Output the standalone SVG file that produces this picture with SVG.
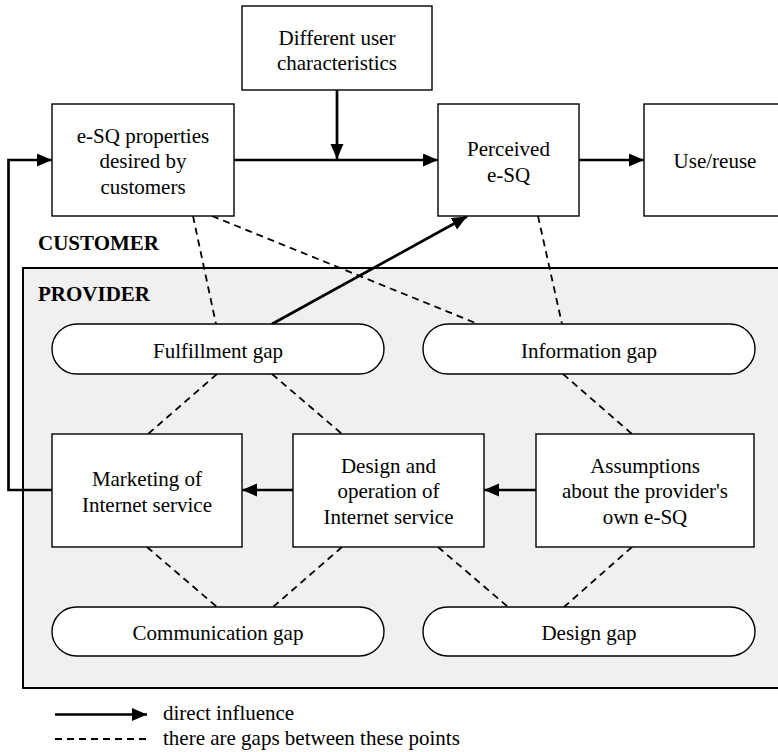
<svg xmlns="http://www.w3.org/2000/svg" width="778" height="752" viewBox="0 0 778 752">
<defs>
<marker id="ah" markerUnits="userSpaceOnUse" markerWidth="16" markerHeight="14" refX="15" refY="6.5" orient="auto">
<path d="M0,0 L15,6.5 L0,13 Z" fill="#000"/>
</marker>
<style>
.box{fill:#fff;stroke:#000;stroke-width:1.4}
.pill{fill:#fff;stroke:#000;stroke-width:1.4}
text{font-family:'Liberation Serif','Times New Roman',serif;font-size:21px;fill:#000}
.t{text-anchor:middle}
.lbl{font-weight:bold}
.arr{fill:none;stroke:#000;stroke-width:2.7;marker-end:url(#ah)}
.dash{fill:none;stroke:#000;stroke-width:1.8;stroke-dasharray:7,5}
</style>
</defs>
<rect width="778" height="752" fill="#fff"/>
<g id="provider-area">
<rect x="23" y="268" width="770" height="420" fill="#f0f0f0" stroke="#000" stroke-width="2"/>
<text class="lbl" x="38" y="301">PROVIDER</text>
</g>
<g id="customer-label"><text class="lbl" x="38" y="250">CUSTOMER</text></g>

<g id="connectors">
<line class="dash" x1="193" y1="216" x2="216" y2="324"/>
<line class="dash" x1="212" y1="216" x2="478" y2="324"/>
<line class="dash" x1="538" y1="216" x2="562" y2="324"/>
<line class="dash" x1="217" y1="374" x2="148" y2="434"/>
<line class="dash" x1="272" y1="374" x2="342" y2="434"/>
<line class="dash" x1="563" y1="374" x2="632" y2="434"/>
<line class="dash" x1="147" y1="547" x2="217" y2="607"/>
<line class="dash" x1="342" y1="547" x2="273" y2="607"/>
<line class="dash" x1="438" y1="547" x2="508" y2="607"/>
<line class="dash" x1="632" y1="547" x2="564" y2="607"/>
<line class="arr" x1="272" y1="324" x2="467" y2="216.5"/>
<line class="arr" x1="234" y1="160" x2="438" y2="160"/>
<line class="arr" x1="337" y1="90" x2="337" y2="159"/>
<line class="arr" x1="579" y1="160" x2="644" y2="160"/>
<line class="arr" x1="293" y1="490" x2="242" y2="490"/>
<line class="arr" x1="536" y1="490" x2="484" y2="490"/>
<polyline class="arr" points="52,490 8.5,490 8.5,160 52,160"/>
</g>

<g id="n-user"><rect class="box" x="242" y="6" width="190" height="84"/>
<text class="t" x="337" y="45">Different user</text><text class="t" x="337" y="70">characteristics</text></g>
<g id="n-desired"><rect class="box" x="52" y="104" width="182" height="112"/>
<text class="t" x="143" y="142.5">e-SQ properties</text><text class="t" x="143" y="168">desired by</text><text class="t" x="143" y="193.5">customers</text></g>
<g id="n-perceived"><rect class="box" x="438" y="104" width="141" height="112"/>
<text class="t" x="508.5" y="156">Perceived</text><text class="t" x="508.5" y="182">e-SQ</text></g>
<g id="n-use"><rect class="box" x="644" y="104" width="140" height="112"/>
<text class="t" x="715" y="168">Use/reuse</text></g>

<g id="n-fulfillment"><rect class="pill" x="52" y="324" width="332" height="50" rx="25"/>
<text class="t" x="218" y="357.5">Fulfillment gap</text></g>
<g id="n-information"><rect class="pill" x="423" y="324" width="332" height="50" rx="25"/>
<text class="t" x="589" y="357.5">Information gap</text></g>

<g id="n-marketing"><rect class="box" x="52" y="434" width="190" height="113"/>
<text class="t" x="147" y="486">Marketing of</text><text class="t" x="147" y="512">Internet service</text></g>
<g id="n-design"><rect class="box" x="293" y="434" width="191" height="113"/>
<text class="t" x="388.5" y="472.5">Design and</text><text class="t" x="388.5" y="498">operation of</text><text class="t" x="388.5" y="523.5">Internet service</text></g>
<g id="n-assumptions"><rect class="box" x="536" y="434" width="218" height="113"/>
<text class="t" x="645" y="472.5">Assumptions</text><text class="t" x="645" y="498">about the provider's</text><text class="t" x="645" y="523.5">own e-SQ</text></g>

<g id="n-communication"><rect class="pill" x="52" y="607" width="332" height="49" rx="24.5"/>
<text class="t" x="218" y="640">Communication gap</text></g>
<g id="n-designgap"><rect class="pill" x="423" y="607" width="332" height="49" rx="24.5"/>
<text class="t" x="589" y="640">Design gap</text></g>

<g id="legend">
<line class="arr" x1="55" y1="714.5" x2="147" y2="714.5"/>
<text x="163" y="720">direct influence</text>
<line class="dash" x1="55" y1="739" x2="147" y2="739"/>
<text x="163" y="744.5">there are gaps between these points</text>
</g>
</svg>
